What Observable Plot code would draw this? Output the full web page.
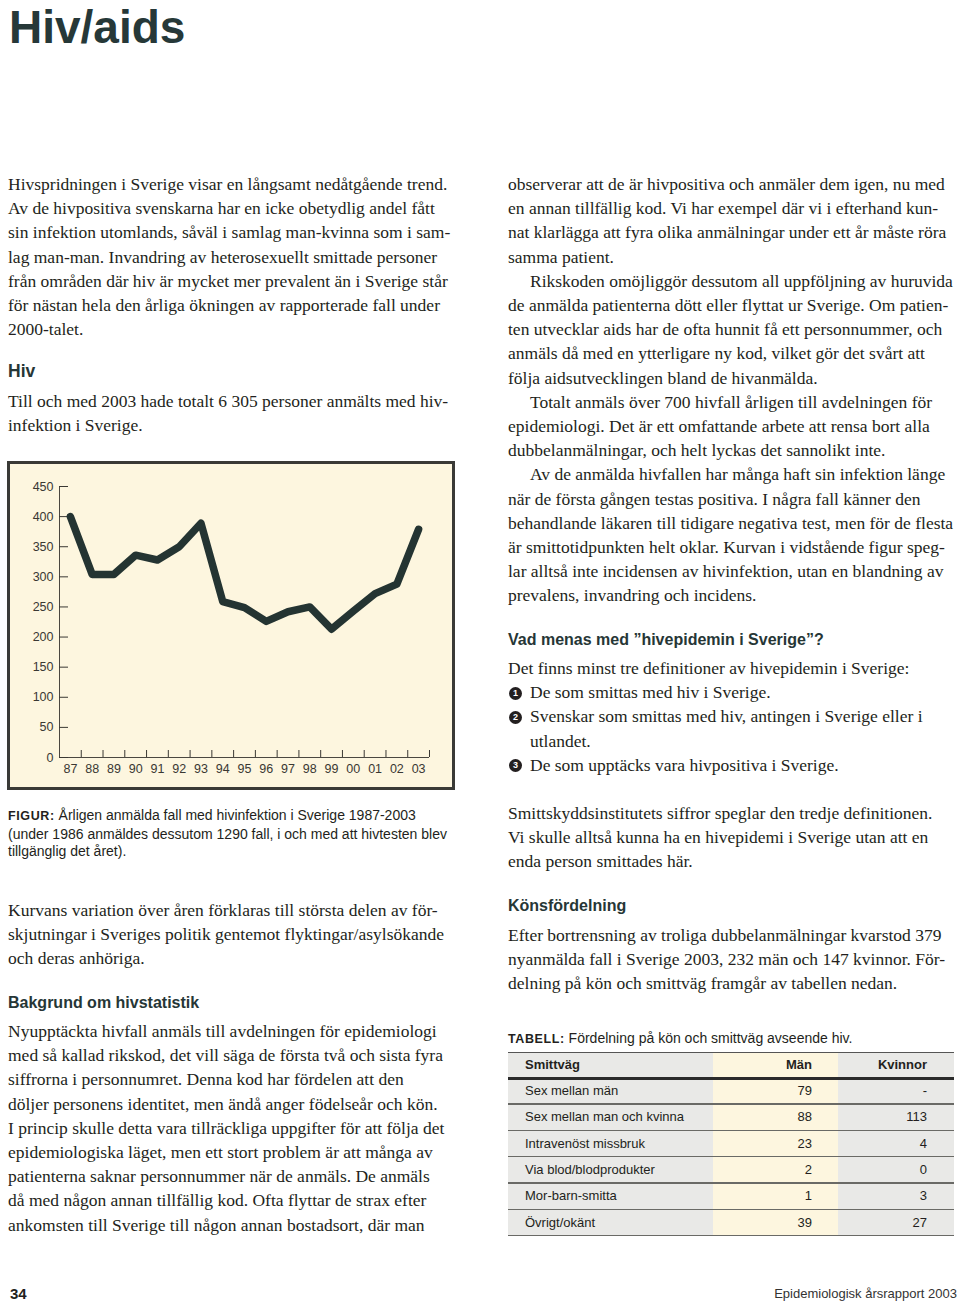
<!DOCTYPE html>
<html><head><meta charset="utf-8">
<script src="https://cdn.jsdelivr.net/npm/d3@7"></script>
<script src="https://cdn.jsdelivr.net/npm/@observablehq/plot@0.6"></script>
<style>
body{margin:0;background:#fff;}
#page{position:relative;width:960px;height:1304px;overflow:hidden;font-family:"Liberation Serif","Times New Roman",serif;color:#231f20;background:#fff;}
.abs{position:absolute;white-space:nowrap;}
.body{font-size:17.5px;line-height:24.2px;}
.h{font-family:"Liberation Sans",Arial,sans-serif;font-weight:bold;font-size:16px;line-height:20px;color:#263636;}
.cap{font-family:"Liberation Sans",Arial,sans-serif;font-size:14px;line-height:17.7px;color:#231f20;}
.cap b{font-size:12.5px;letter-spacing:0.6px;}
.ind{display:inline-block;width:22px;}
.bul{display:inline-block;width:13px;height:13px;border-radius:50%;background:#231f20;color:#fff;font:bold 9px/13px "Liberation Sans",Arial,sans-serif;text-align:center;margin-left:1px;margin-right:8px;vertical-align:middle;position:relative;top:-1px;}
#chartbox{position:absolute;left:7px;top:461px;width:442px;height:323px;border:3px solid #3a3a36;background:#fdf6df;}
#chartbox svg{display:block;}
.tcell{position:absolute;font-family:"Liberation Sans",Arial,sans-serif;font-size:13px;color:#231f20;white-space:nowrap;}
</style></head>
<body><div id="page">

<div class="abs" style="left:9px;top:1px;font-family:'Liberation Sans',Arial,sans-serif;font-weight:bold;font-size:46px;line-height:53px;color:#263838;">Hiv/aids</div>

<div class="abs body" style="left:8px;top:172px">Hivspridningen i Sverige visar en långsamt nedåtgående trend.<br>
Av de hivpositiva svenskarna har en icke obetydlig andel fått<br>
sin infektion utomlands, såväl i samlag man-kvinna som i sam-<br>
lag man-man. Invandring av heterosexuellt smittade personer<br>
från områden där hiv är mycket mer prevalent än i Sverige står<br>
för nästan hela den årliga ökningen av rapporterade fall under<br>
2000-talet.</div>

<div class="abs h" style="left:8px;top:361px;font-size:17.5px;">Hiv</div>

<div class="abs body" style="left:8px;top:389px">Till och med 2003 hade totalt 6 305 personer anmälts med hiv-<br>
infektion i Sverige.</div>

<div id="chartbox"></div>

<div class="abs cap" style="left:8px;top:807px"><b>FIGUR:</b> Årligen anmälda fall med hivinfektion i Sverige 1987-2003<br>
(under 1986 anmäldes dessutom 1290 fall, i och med att hivtesten blev<br>
tillgänglig det året).</div>

<div class="abs body" style="left:8px;top:898px">Kurvans variation över åren förklaras till största delen av för-<br>
skjutningar i Sveriges politik gentemot flyktingar/asylsökande<br>
och deras anhöriga.</div>

<div class="abs h" style="left:8px;top:993px">Bakgrund om hivstatistik</div>

<div class="abs body" style="left:8px;top:1019px">Nyupptäckta hivfall anmäls till avdelningen för epidemiologi<br>
med så kallad rikskod, det vill säga de första två och sista fyra<br>
siffrorna i personnumret. Denna kod har fördelen att den<br>
döljer personens identitet, men ändå anger födelseår och kön.<br>
I princip skulle detta vara tillräckliga uppgifter för att följa det<br>
epidemiologiska läget, men ett stort problem är att många av<br>
patienterna saknar personnummer när de anmäls. De anmäls<br>
då med någon annan tillfällig kod. Ofta flyttar de strax efter<br>
ankomsten till Sverige till någon annan bostadsort, där man</div>

<div class="abs body" style="left:508px;top:172px">observerar att de är hivpositiva och anmäler dem igen, nu med<br>
en annan tillfällig kod. Vi har exempel där vi i efterhand kun-<br>
nat klarlägga att fyra olika anmälningar under ett år måste röra<br>
samma patient.<br>
<span class="ind"></span>Rikskoden omöjliggör dessutom all uppföljning av huruvida<br>
de anmälda patienterna dött eller flyttat ur Sverige. Om patien-<br>
ten utvecklar aids har de ofta hunnit få ett personnummer, och<br>
anmäls då med en ytterligare ny kod, vilket gör det svårt att<br>
följa aidsutvecklingen bland de hivanmälda.<br>
<span class="ind"></span>Totalt anmäls över 700 hivfall årligen till avdelningen för<br>
epidemiologi. Det är ett omfattande arbete att rensa bort alla<br>
dubbelanmälningar, och helt lyckas det sannolikt inte.<br>
<span class="ind"></span>Av de anmälda hivfallen har många haft sin infektion länge<br>
när de första gången testas positiva. I några fall känner den<br>
behandlande läkaren till tidigare negativa test, men för de flesta<br>
är smittotidpunkten helt oklar. Kurvan i vidstående figur speg-<br>
lar alltså inte incidensen av hivinfektion, utan en blandning av<br>
prevalens, invandring och incidens.</div>

<div class="abs h" style="left:508px;top:630px">Vad menas med ”hivepidemin i Sverige”?</div>

<div class="abs body" style="left:508px;top:656px">Det finns minst tre definitioner av hivepidemin i Sverige:<br>
<span class="bul">1</span>De som smittas med hiv i Sverige.<br>
<span class="bul">2</span>Svenskar som smittas med hiv, antingen i Sverige eller i<br>
<span class="ind"></span>utlandet.<br>
<span class="bul">3</span>De som upptäcks vara hivpositiva i Sverige.</div>

<div class="abs body" style="left:508px;top:801px">Smittskyddsinstitutets siffror speglar den tredje definitionen.<br>
Vi skulle alltså kunna ha en hivepidemi i Sverige utan att en<br>
enda person smittades här.</div>

<div class="abs h" style="left:508px;top:896px">Könsfördelning</div>

<div class="abs body" style="left:508px;top:923px">Efter bortrensning av troliga dubbelanmälningar kvarstod 379<br>
nyanmälda fall i Sverige 2003, 232 män och 147 kvinnor. För-<br>
delning på kön och smittväg framgår av tabellen nedan.</div>

<div class="abs cap" style="left:508px;top:1030px"><b>TABELL:</b> Fördelning på kön och smittväg avseende hiv.</div>

<div class="abs" style="left:10px;top:1285px;font-family:'Liberation Sans',Arial,sans-serif;font-weight:bold;font-size:15px;line-height:18px;color:#231f20;">34</div>
<div class="abs" style="right:3px;top:1286px;font-family:'Liberation Sans',Arial,sans-serif;font-size:13px;line-height:16px;color:#333;">Epidemiologisk årsrapport 2003</div>

</div>
<script>
// ---- chart data ----
const years = [1987, 1988, 1989, 1990, 1991, 1992, 1993, 1994, 1995, 1996, 1997, 1998, 1999, 2000, 2001, 2002, 2003];
const yearLabels = ["87", "88", "89", "90", "91", "92", "93", "94", "95", "96", "97", "98", "99", "00", "01", "02", "03"];
const cases = [400, 304, 304, 336, 328, 350, 389, 259, 249, 226, 242, 250, 213, 243, 272, 288, 379];
const yTicks = [0, 50, 100, 150, 200, 250, 300, 350, 400, 450];

// ---- table data ----
const tableHeader = ["Smittväg", "Män", "Kvinnor"];
const smittvag = ["Sex mellan män", "Sex mellan man och kvinna", "Intravenöst missbruk", "Via blod/blodprodukter", "Mor-barn-smitta", "Övrigt/okänt"];
const man = ["79", "88", "23", "2", "1", "39"];
const kvinnor = ["-", "113", "4", "0", "3", "27"];

const data = years.map((year, i) => ({year, cases: cases[i]}));
const xDomain = [years[0] - 0.5, years[years.length - 1] + 0.5];
const bounds = years.map(y => y + 0.5);
const axisColor = "#4a4740";

const chart = Plot.plot({
  width: 442,
  height: 323,
  marginLeft: 49,
  marginRight: 23,
  marginTop: 22,
  marginBottom: 30,
  style: {background: "#fdf6df", fontFamily: "'Liberation Sans', Arial, sans-serif", fontSize: "12.5px", color: "#3a3833"},
  x: {domain: xDomain, label: null},
  y: {domain: [0, 450], label: null},
  marks: [
    Plot.ruleX([xDomain[0]], {stroke: axisColor}),
    Plot.ruleY([0], {stroke: axisColor}),
    Plot.axisY({ticks: yTicks, tickSize: 0, tickPadding: 6, label: null}),
    Plot.axisY({ticks: yTicks, tickSize: -9, tickFormat: () => "", label: null}),
    Plot.axisX({ticks: bounds, tickSize: -7, tickFormat: () => "", label: null}),
    Plot.axisX({ticks: years, tickSize: 0, tickPadding: 7, tickFormat: d => yearLabels[years.indexOf(d)], label: null}),
    Plot.line(data, {x: "year", y: "cases", stroke: "#243432", strokeWidth: 7.5})
  ]
});
document.getElementById("chartbox").appendChild(chart);

// ---- table ----
const page = document.getElementById("page");
const colX = [508, 713, 838, 954];
const tTop = 1052, headH = 26, rowH = 26.3;
function box(l, t, w, h, css) {
  const d = document.createElement("div");
  d.style.cssText = `position:absolute;left:${l}px;top:${t}px;width:${w}px;height:${h}px;${css}`;
  page.appendChild(d);
  return d;
}
const nRows = smittvag.length;
const totalH = headH + nRows * rowH;
box(colX[0], tTop, colX[3] - colX[0], totalH, "background:#e9e9e7;");
box(colX[1], tTop, colX[2] - colX[1], totalH, "background:#fdf6df;");
box(colX[0], tTop, colX[3] - colX[0], 1, "background:#555;");
box(colX[0], tTop + headH - 1, colX[3] - colX[0], 3, "background:#2b2b2b;");
for (let i = 0; i < nRows; i++) {
  box(colX[0], tTop + headH + (i + 1) * rowH - 1, colX[3] - colX[0], 1.5, "background:#6a6a66;");
}
function cell(text, i, col, bold) {
  const d = document.createElement("div");
  d.className = "tcell";
  d.textContent = text;
  const top = (i < 0 ? tTop : tTop + headH + i * rowH) + 5;
  d.style.top = top + "px";
  d.style.lineHeight = "16px";
  if (bold) d.style.fontWeight = "bold";
  if (col === 0) d.style.left = (colX[0] + 17) + "px";
  else if (col === 1) d.style.right = (960 - 812) + "px";
  else d.style.right = (960 - 927) + "px";
  page.appendChild(d);
}
tableHeader.forEach((t, c) => cell(t, -1, c, true));
for (let i = 0; i < nRows; i++) {
  cell(smittvag[i], i, 0);
  cell(man[i], i, 1);
  cell(kvinnor[i], i, 2);
}
</script>
</body></html>
